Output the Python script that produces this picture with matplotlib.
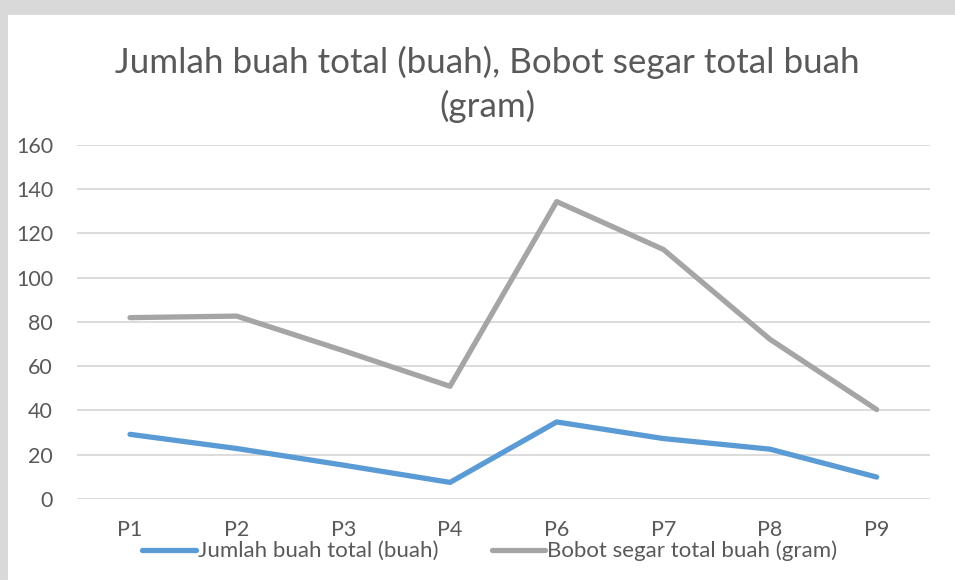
import matplotlib
matplotlib.use("Agg")
import matplotlib.pyplot as plt
from matplotlib.patches import Rectangle

categories = ["P1", "P2", "P3", "P4", "P6", "P7", "P8", "P9"]
jumlah_buah = [29.2, 22.8, 15.3, 7.5, 34.8, 27.3, 22.5, 9.9]
bobot_segar = [81.9, 82.6, 67.0, 50.9, 134.3, 112.7, 72.1, 40.4]
yticks = [0, 20, 40, 60, 80, 100, 120, 140, 160]
title = "Jumlah buah total (buah), Bobot segar total buah\n(gram)"
labels = ["Jumlah buah total (buah)", "Bobot segar total buah (gram)"]

plt.rcParams['font.family'] = ['Lato', 'DejaVu Sans']
W, H = 955, 580
fig = plt.figure(figsize=(W / 100, H / 100), dpi=100, facecolor="#d9d9d9")
fig.patches.append(Rectangle((8 / W, 0), 1 - 8 / W, 1 - 15 / H, transform=fig.transFigure,
                             facecolor="white", edgecolor="none", zorder=-10))

ax = fig.add_axes([76.7 / W, 1 - 499 / H, (930 - 76.7) / W, (499 - 144.7) / H])
ax.set_facecolor("none")
x = list(range(len(categories)))
ax.plot(x, jumlah_buah, color="#5b9bd5", lw=3.8, solid_capstyle="round", solid_joinstyle="round",
        label=labels[0], zorder=3)
ax.plot(x, bobot_segar, color="#a5a5a5", lw=3.8, solid_capstyle="round", solid_joinstyle="round",
        label=labels[1], zorder=3)
ax.set_xlim(-0.5, len(categories) - 0.5)
ax.set_ylim(0, 160)
ax.set_yticks(yticks)
ax.set_xticks(x)
ax.set_xticklabels(categories)
ax.grid(axis="y", color="#d9d9d9", lw=1.3)
ax.set_axisbelow(True)
for s in ax.spines.values():
    s.set_visible(False)
ax.tick_params(axis="both", length=0, labelsize=15.5, labelcolor="#595959")
ax.tick_params(axis="y", pad=17)
ax.tick_params(axis="x", pad=15)

fig.text(487 / W, 1 - 84 / H, title, ha="center", va="center", fontsize=25.2, color="#595959",
         linespacing=1.4)

leg = fig.legend(loc="center", bbox_to_anchor=(490 / W, 1 - 551 / H), ncol=2, frameon=False,
                 fontsize=16, handlelength=2.4, handletextpad=0.1, columnspacing=2.4,
                 labelcolor="#595959")
plt.savefig("out.png", dpi=100, facecolor=fig.get_facecolor())
